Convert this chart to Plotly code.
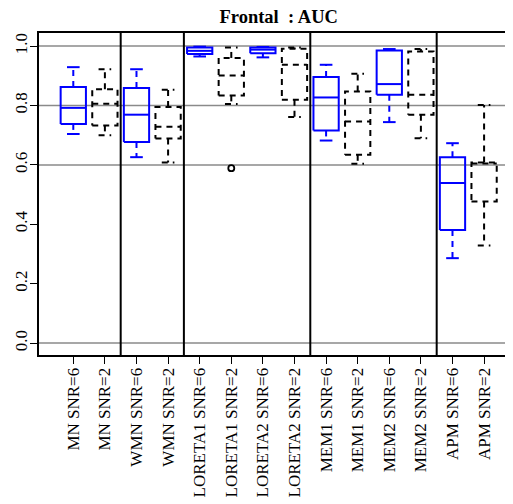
import plotly.graph_objects as go

# ---- data ----
labels = ["MN SNR=6", "MN SNR=2", "WMN SNR=6", "WMN SNR=2",
          "LORETA1 SNR=6", "LORETA1 SNR=2", "LORETA2 SNR=6", "LORETA2 SNR=2",
          "MEM1 SNR=6", "MEM1 SNR=2", "MEM2 SNR=6", "MEM2 SNR=2",
          "APM SNR=6", "APM SNR=2"]
whisker_low = [0.704, 0.700, 0.626, 0.608, 0.965, 0.805, 0.962, 0.761, 0.682, 0.604, 0.744, 0.690, 0.286, 0.329]
q1 = [0.738, 0.733, 0.677, 0.689, 0.973, 0.834, 0.976, 0.819, 0.716, 0.634, 0.836, 0.769, 0.381, 0.477]
median = [0.792, 0.806, 0.769, 0.728, 0.984, 0.901, 0.988, 0.937, 0.827, 0.746, 0.872, 0.836, 0.539, 0.605]
q3 = [0.862, 0.855, 0.859, 0.795, 0.995, 0.960, 0.995, 0.991, 0.896, 0.847, 0.985, 0.982, 0.626, 0.608]
whisker_high = [0.929, 0.922, 0.922, 0.853, 0.998, 0.995, 0.997, 0.995, 0.937, 0.907, 0.990, 0.990, 0.673, 0.802]
outlier_pos = [6]
outlier_val = [0.589]
hlines = [0.0, 0.6, 0.8, 1.0]
group_separators = [2.5, 4.5, 8.5, 12.5]
yticks = [0.0, 0.2, 0.4, 0.6, 0.8, 1.0]

BLUE = "#0000FF"
BLACK = "#000000"
FONT = "Liberation Serif"
HALF_BOX = 0.4
HALF_STAPLE = 0.2

positions = list(range(1, len(labels) + 1))

solid_x, solid_y = [], []      # blue boxes, medians, staples
bwhisk_x, bwhisk_y = [], []    # blue dashed whiskers
dash_x, dash_y = [], []        # black dashed everything

for i, p in enumerate(positions):
    rect_x = [p - HALF_BOX, p + HALF_BOX, p + HALF_BOX, p - HALF_BOX, p - HALF_BOX, None]
    rect_y = [q1[i], q1[i], q3[i], q3[i], q1[i], None]
    med_x = [p - HALF_BOX, p + HALF_BOX, None]
    med_y = [median[i], median[i], None]
    st_x = [p - HALF_STAPLE, p + HALF_STAPLE, None, p - HALF_STAPLE, p + HALF_STAPLE, None]
    st_y = [whisker_high[i], whisker_high[i], None, whisker_low[i], whisker_low[i], None]
    wh_x = [p, p, None, p, p, None]
    wh_y = [q3[i], whisker_high[i], None, q1[i], whisker_low[i], None]
    if i % 2 == 0:
        solid_x += rect_x + med_x + st_x
        solid_y += rect_y + med_y + st_y
        bwhisk_x += wh_x
        bwhisk_y += wh_y
    else:
        dash_x += rect_x + med_x + st_x + wh_x
        dash_y += rect_y + med_y + st_y + wh_y

fig = go.Figure()
fig.add_trace(go.Scatter(x=bwhisk_x, y=bwhisk_y, mode="lines",
                         line=dict(color=BLUE, width=2, dash="6px,5px"),
                         hoverinfo="skip", showlegend=False))
fig.add_trace(go.Scatter(x=solid_x, y=solid_y, mode="lines",
                         line=dict(color=BLUE, width=2),
                         hoverinfo="skip", showlegend=False))
fig.add_trace(go.Scatter(x=dash_x, y=dash_y, mode="lines",
                         line=dict(color=BLACK, width=2, dash="6px,5px"),
                         hoverinfo="skip", showlegend=False))
fig.add_trace(go.Scatter(x=outlier_pos, y=outlier_val, mode="markers",
                         marker=dict(symbol="circle-open", size=6, color=BLACK,
                                     line=dict(width=1.8, color=BLACK)),
                         hoverinfo="skip", showlegend=False))

for h in hlines:
    fig.add_shape(type="line", xref="paper", x0=0, x1=1, yref="y", y0=h, y1=h,
                  line=dict(color="#8a8a8a", width=1.5), layer="below")
for s in group_separators:
    fig.add_shape(type="line", xref="x", x0=s, x1=s, yref="paper", y0=0, y1=1,
                  line=dict(color=BLACK, width=2), layer="above")

# the page body adds an 8px offset, so the figure is 8px smaller than the window
fig.update_layout(
    width=505, height=496,
    margin=dict(l=31, r=0, t=25, b=149, autoexpand=False),
    paper_bgcolor="white", plot_bgcolor="white",
    title=dict(text="<b>Frontal  : AUC</b>", x=0.536, xanchor="center",
               yref="container", y=1 - 9 / 496, yanchor="middle",
               font=dict(family=FONT, size=18.5, color=BLACK)),
    font=dict(family=FONT, color=BLACK),
)
fig.update_xaxes(range=[-0.085, 14.915], tickmode="array", tickvals=positions,
                 ticktext=labels, tickangle=-90, ticks="outside", ticklen=7,
                 tickwidth=1.2, tickcolor=BLACK, showgrid=False, zeroline=False,
                 showline=True, linecolor=BLACK, linewidth=2, mirror=True,
                 automargin=False, ticklabelstandoff=-3,
                 tickfont=dict(family=FONT, size=17, color=BLACK))
fig.update_yaxes(range=[-0.04, 1.044], tickmode="array", tickvals=yticks,
                 ticktext=["%.1f" % v for v in yticks], tickangle=-90,
                 ticks="outside", ticklen=7, tickwidth=1.2, tickcolor=BLACK,
                 showgrid=False, zeroline=False, showline=True, linecolor=BLACK,
                 linewidth=2, mirror=False, automargin=False,
                 ticklabelstandoff=-4,
                 tickfont=dict(family=FONT, size=17, color=BLACK))

fig.write_html("out.html")
